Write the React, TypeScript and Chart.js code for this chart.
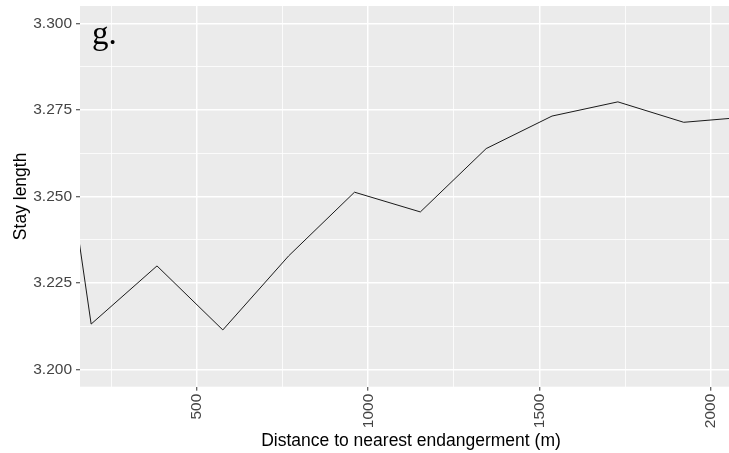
import React, { useEffect, useRef } from "react";
import { Chart, registerables } from "chart.js";

Chart.register(...registerables);

const distances = [0, 192, 384, 576, 768, 960, 1152, 1344, 1536, 1728, 1920, 2112];
const stayLength = [3.344, 3.2131, 3.2299, 3.2114, 3.2328, 3.2512, 3.2455, 3.2638, 3.2732, 3.2773, 3.2714, 3.273];

const xMajorTicks = [500, 1000, 1500, 2000];
const xMinorTicks = [250, 750, 1250, 1750];
const yMajorTicks = [3.2, 3.225, 3.25, 3.275, 3.3];
const yMinorTicks = [3.2125, 3.2375, 3.2625, 3.2875];

const xTitle = "Distance to nearest endangerment (m)";
const yTitle = "Stay length";
const panelLabel = "g.";

const FONT = "'Liberation Sans', Arial, sans-serif";

const isMajor = (arr: number[], v: number) => arr.some((m) => Math.abs(m - v) < 1e-6);

export default function App() {
  const ref = useRef<HTMLCanvasElement | null>(null);

  useEffect(() => {
    if (!ref.current) return;
    const panelBg = {
      id: "panelBg",
      beforeDraw(chart: any) {
        const { ctx, chartArea } = chart;
        ctx.save();
        ctx.fillStyle = "#EBEBEB";
        ctx.fillRect(chartArea.left, chartArea.top, chartArea.right - chartArea.left, chartArea.bottom - chartArea.top);
        ctx.restore();
      },
      afterDraw(chart: any) {
        const { ctx } = chart;
        ctx.save();
        ctx.fillStyle = "#000";
        ctx.font = "33px 'Liberation Serif', 'DejaVu Serif', serif";
        ctx.textBaseline = "alphabetic";
        ctx.textAlign = "left";
        ctx.fillText(panelLabel, 92, 44);
        ctx.restore();
      },
    };

    const chart = new Chart(ref.current, {
      type: "line",
      data: {
        datasets: [
          {
            data: distances.map((d, i) => ({ x: d, y: stayLength[i] })),
            borderColor: "#1a1a1a",
            borderWidth: 1,
            pointRadius: 0,
            tension: 0,
            fill: false,
          },
        ],
      },
      options: {
        animation: false,
        responsive: false,
        devicePixelRatio: 1,
        layout: { padding: { top: 6, right: 3, left: 0, bottom: 0 } },
        plugins: { legend: { display: false }, tooltip: { enabled: false } },
        scales: {
          x: {
            type: "linear",
            min: 159.5,
            max: 2090,
            afterBuildTicks: (scale: any) => {
              scale.ticks = [...xMinorTicks, ...xMajorTicks].sort((a, b) => a - b).map((v) => ({ value: v }));
            },
            afterFit: (scale: any) => {
              scale.height = 66.3;
              scale.paddingLeft = 0;
              scale.paddingRight = 0;
              scale.paddingTop = 0;
              scale.paddingBottom = 0;
            },
            border: { display: false },
            grid: {
              color: "#FFFFFF",
              lineWidth: (c: any) => (isMajor(xMajorTicks, c.tick.value) ? 1.5 : 0.8),
              tickColor: (c: any) => (isMajor(xMajorTicks, c.tick.value) ? "#333333" : "rgba(0,0,0,0)"),
              tickLength: 4,
              tickWidth: 1,
            },
            ticks: {
              autoSkip: false,
              minRotation: 90,
              maxRotation: 90,
              padding: 3,
              color: "#444444",
              font: { family: FONT, size: 15.5 },
              callback: (v: any) => (isMajor(xMajorTicks, Number(v)) ? String(v) : ""),
            },
            title: {
              display: true,
              text: xTitle,
              color: "#000",
              font: { family: FONT, size: 17.5 },
              padding: { top: 0, bottom: 1 },
            },
          },
          y: {
            type: "linear",
            min: 3.195,
            max: 3.305,
            afterBuildTicks: (scale: any) => {
              scale.ticks = [...yMinorTicks, ...yMajorTicks].sort((a, b) => a - b).map((v) => ({ value: v }));
            },
            afterFit: (scale: any) => {
              scale.width = 80;
              scale.paddingLeft = 0;
              scale.paddingRight = 0;
              scale.paddingTop = 0;
              scale.paddingBottom = 0;
            },
            border: { display: false },
            grid: {
              color: "#FFFFFF",
              lineWidth: (c: any) => (isMajor(yMajorTicks, c.tick.value) ? 1.5 : 0.8),
              tickColor: (c: any) => (isMajor(yMajorTicks, c.tick.value) ? "#333333" : "rgba(0,0,0,0)"),
              tickLength: 4,
              tickWidth: 1,
            },
            ticks: {
              autoSkip: false,
              padding: 4,
              color: "#444444",
              font: { family: FONT, size: 15.5 },
              callback: (v: any) => (isMajor(yMajorTicks, Number(v)) ? Number(v).toFixed(3) : ""),
            },
            title: {
              display: true,
              text: yTitle,
              color: "#000",
              font: { family: FONT, size: 17.5 },
              padding: { top: 11, bottom: 0 },
            },
          },
        },
      },
      plugins: [panelBg],
    });
    return () => chart.destroy();
  }, []);

  return (
    <div style={{ position: "fixed", left: 0, top: 0, width: 729, height: 453, overflow: "hidden", background: "#fff" }}>
      <canvas ref={ref} width={745} height={453} style={{ width: 745, height: 453, display: "block" }} />
    </div>
  );
}
